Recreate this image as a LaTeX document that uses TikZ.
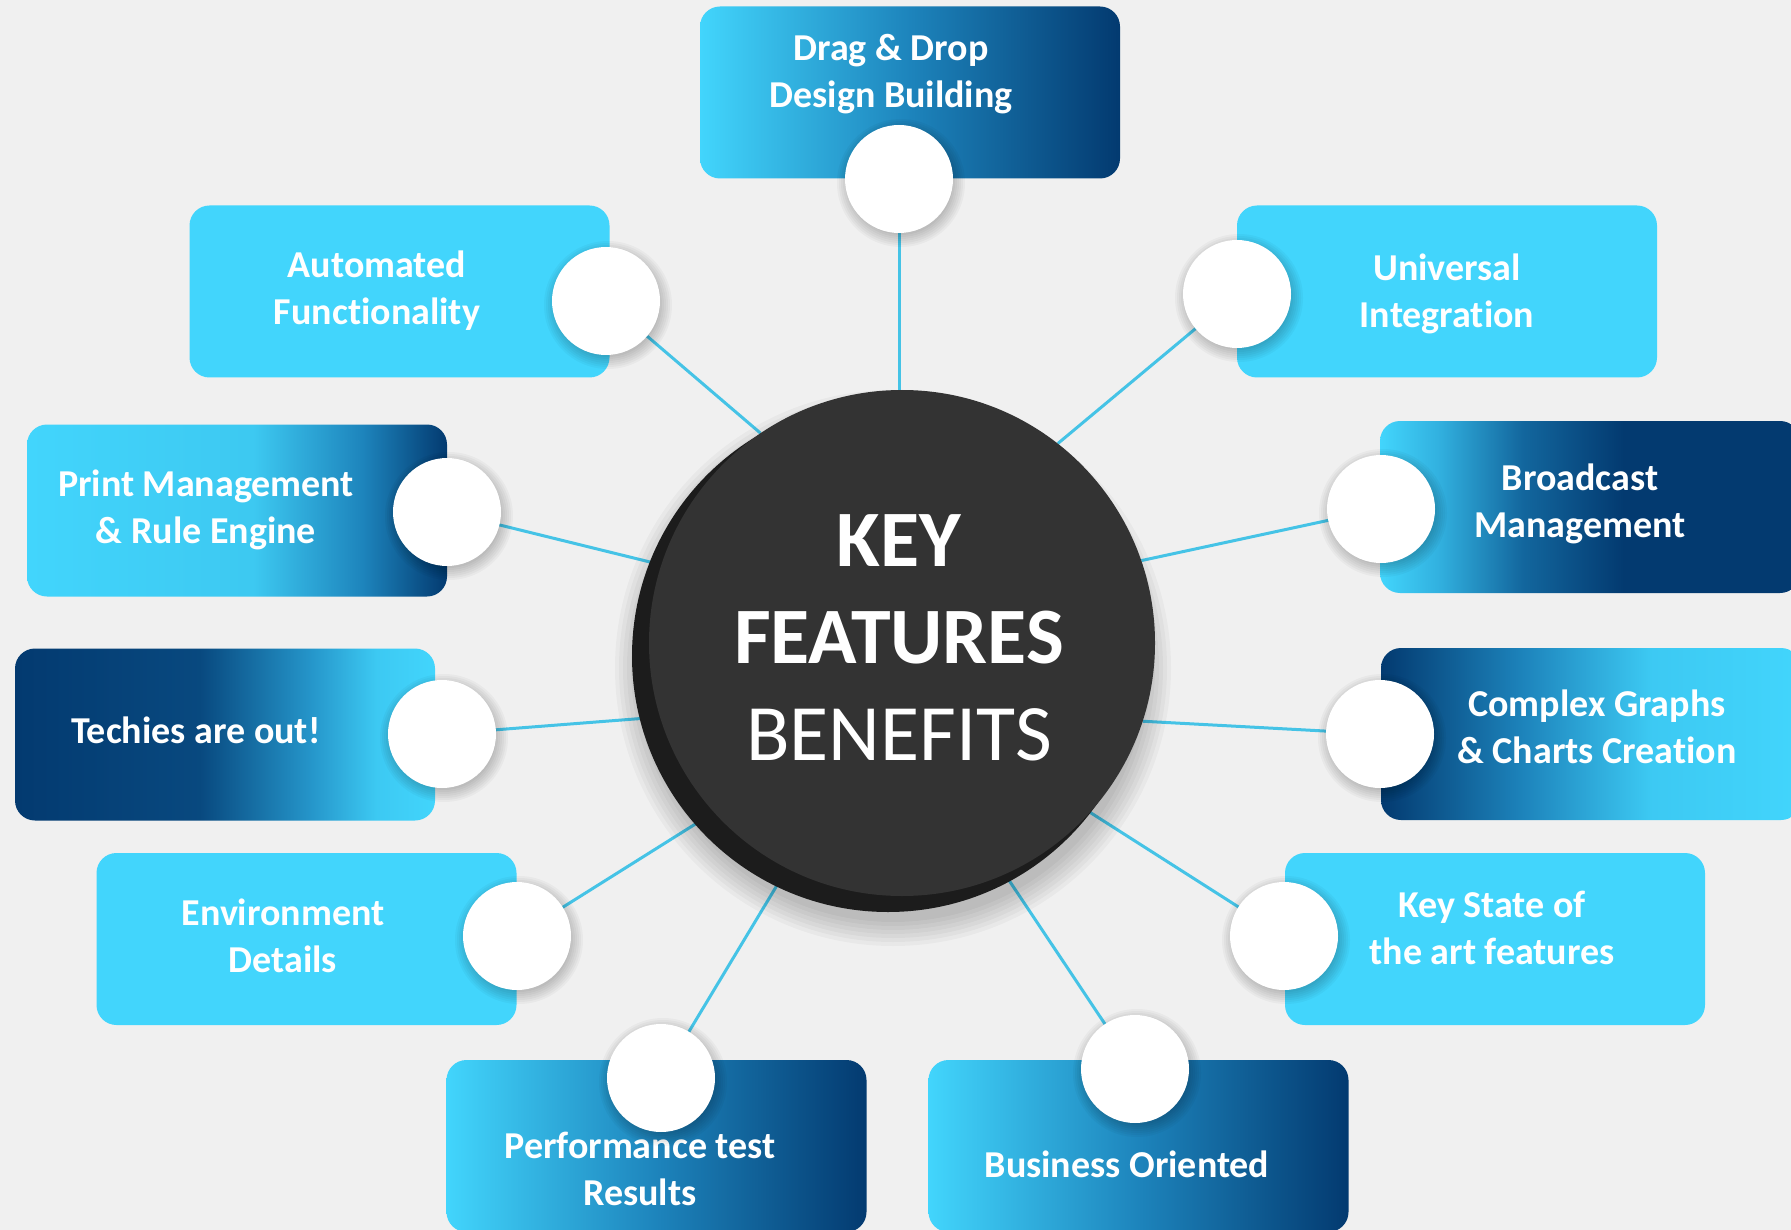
\documentclass[tikz,border=0pt]{standalone}
\usepackage{fontspec}
\setmainfont{Carlito}[Ligatures=NoCommon]
\pgfdeclarelayer{bglayer}
\pgfdeclarelayer{lines}
\pgfsetlayers{bglayer,lines,main}
\definecolor{bg}{HTML}{F0F0F0}
\definecolor{lite}{HTML}{42D5FC}
\definecolor{navy}{HTML}{033A70}
\definecolor{midb}{HTML}{1D84BC}
\definecolor{hubc}{HTML}{333333}
\definecolor{hubedge}{HTML}{1C1C1C}
\definecolor{linec}{HTML}{45C3E6}
% horizontal shadings: 25bp = left edge, 75bp = right edge
\pgfdeclarehorizontalshading{gLD}{100bp}{color(0bp)=(lite); color(25bp)=(lite); color(50bp)=(midb); color(75bp)=(navy); color(100bp)=(navy)}
\pgfdeclarehorizontalshading{gPrint}{100bp}{color(0bp)=(lite); color(25bp)=(lite); color(52bp)=(lite!92!navy); color(65bp)=(midb); color(75bp)=(navy); color(100bp)=(navy)}
\pgfdeclarehorizontalshading{gTech}{100bp}{color(0bp)=(navy); color(25bp)=(navy); color(47bp)=(navy!80!midb); color(60bp)=(midb!80!lite); color(68bp)=(lite!85!midb); color(75bp)=(lite); color(100bp)=(lite)}
\pgfdeclarehorizontalshading{gBroad}{100bp}{color(0bp)=(lite); color(25bp)=(lite); color(32bp)=(lite!55!midb); color(42bp)=(midb!60!navy); color(54bp)=(navy); color(75bp)=(navy); color(100bp)=(navy)}
\pgfdeclarehorizontalshading{gComp}{100bp}{color(0bp)=(navy); color(25bp)=(navy); color(42bp)=(midb); color(57bp)=(lite!85!midb); color(75bp)=(lite); color(100bp)=(lite)}
\tikzset{
  box/.style={rectangle, rounded corners=20pt, minimum width=420pt, minimum height=172pt, inner sep=0pt, draw=none},
  dot/.style={circle, fill=white, minimum size=108pt, inner sep=0pt},
  lbl/.style={text=white, font=\fontsize{38}{47}\selectfont\bfseries, align=center, anchor=base, inner sep=0pt},
  conn/.style={draw=linec, line width=3pt},
}
% soft shadow made of concentric translucent discs
\newcommand\softshade[4]{% x, y, base radius, step
  \foreach \k in {1,...,7}{\fill[black, fill opacity=0.03] (#1,#2) circle[radius=#3pt+\k*#4pt];}}
\begin{document}
\begin{tikzpicture}[x=1pt,y=-1pt]
\begin{pgfonlayer}{bglayer}
\fill[bg] (0,0) rectangle (1791,1230);
\end{pgfonlayer}
\useasboundingbox (0,0) rectangle (1791,1230);

% boxes
\node[box, shading=gLD]    (b1)  at (910,92.5)   {};
\node[box, fill=lite]      (b2)  at (399.5,291.5) {};
\node[box, fill=lite]      (b3)  at (1447,291.5) {};
\node[box, shading=gPrint] (b4)  at (237,510.5)  {};
\node[box, shading=gBroad] (b5)  at (1590,507)   {};
\node[box, shading=gTech]  (b6)  at (225,734.5)  {};
\node[box, shading=gComp]  (b7)  at (1591,734)   {};
\node[box, fill=lite]      (b8)  at (306.5,939)  {};
\node[box, fill=lite]      (b9)  at (1495,939)   {};
\node[box, shading=gLD]    (b10) at (656.5,1146) {};
\node[box, shading=gLD]    (b11) at (1138.5,1146) {};

% labels (anchor base = baseline of the last line)
\node[lbl] (t1)  at (891,108)   {Drag \& Drop\\Design Building};
\node[lbl] (t2)  at (377,325)   {Automated\\Functionality};
\node[lbl] (t3)  at (1447,328)  {Universal\\Integration};
\node[lbl] (t4)  at (206,543)   {Print Management\\\& Rule Engine};
\node[lbl] (t5)  at (1580,537)  {Broadcast\\Management};
\node[lbl] (t6)  at (196,743)   {Techies are out!};
\node[lbl] (t7)  at (1597,763)  {Complex Graphs\\\& Charts Creation};
\node[lbl] (t8)  at (283,972)   {Environment\\Details};
\node[lbl] (t9)  at (1492,964)  {Key State of\\the art features};
\node[lbl] (t10) at (640,1205)  {Performance test\\Results};
\node[lbl] (t11) at (1127,1177) {Business Oriented};

% hub with soft shadow
\softshade{893}{668}{250}{4}
\node[circle, fill=hubedge, minimum size=512pt, inner sep=0pt] (hubback) at (888,656) {};
\node[circle, fill=hubc, minimum size=506pt, inner sep=0pt] (hub) at (902,643) {};
\node[text=white, font=\fontsize{80}{97}\selectfont, align=center, anchor=base, inner sep=0pt] (hubtxt) at (899,760)
  {\textbf{KEY}\\\textbf{FEATURES}\\BENEFITS};

% dots with soft shadows
\softshade{901}{183}{50}{2}
\softshade{608}{305}{50}{2}
\softshade{1239}{298}{50}{2}
\softshade{449}{516}{50}{2}
\softshade{1383}{513}{50}{2}
\softshade{444}{738}{50}{2}
\softshade{1382}{738}{50}{2}
\softshade{519}{940}{50}{2}
\softshade{1286}{940}{50}{2}
\softshade{663}{1082}{50}{2}
\softshade{1137}{1073}{50}{2}
\node[dot] (c1)  at (899,179)  {};
\node[dot] (c2)  at (606,301)  {};
\node[dot] (c3)  at (1237,294) {};
\node[dot] (c4)  at (447,512)  {};
\node[dot] (c5)  at (1381,509) {};
\node[dot] (c6)  at (442,734)  {};
\node[dot] (c7)  at (1380,734) {};
\node[dot] (c8)  at (517,936)  {};
\node[dot] (c9)  at (1284,936) {};
\node[dot] (c10) at (661,1078) {};
\node[dot] (c11) at (1135,1069) {};

% connectors
\begin{pgfonlayer}{lines}
\draw[conn] (c1.center)  -- (c1.center |- hub.north);
\draw[conn] (c2.center)  -- (hub.124.9);
\draw[conn] (c3.center)  -- (hub.52.6);
\draw[conn] (c4.center)  -- (hub.162.7);
\draw[conn] (c5.center)  -- (hub.19.1);
\draw[conn] (c6.center)  -- (hub.197.7);
\draw[conn] (c7.center)  -- (hub.-18.8);
\draw[conn] (c8.center)  -- (hub.222.2);
\draw[conn] (c9.center)  -- (hub.-42.7);
\draw[conn] (c10.center) -- (hub.243.6);
\draw[conn] (c11.center) -- (hub.-66);
\end{pgfonlayer}
\end{tikzpicture}
\end{document}
